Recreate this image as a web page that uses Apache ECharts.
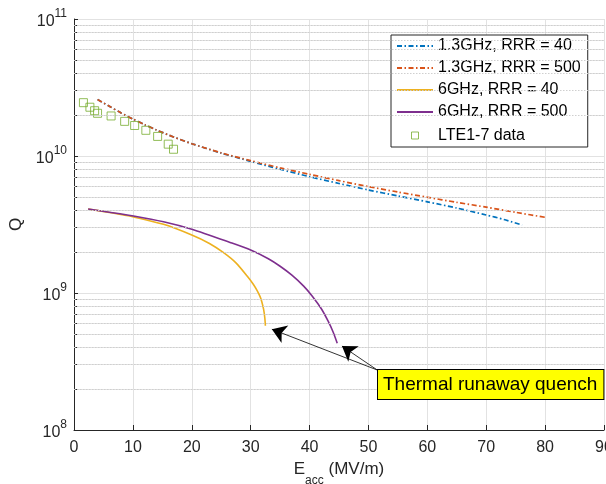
<!DOCTYPE html>
<html><head><meta charset="utf-8">
<script src="https://cdn.jsdelivr.net/npm/echarts@6/dist/echarts.min.js"></script>
<style>html,body{margin:0;padding:0;background:#fff}#c{width:606px;height:484px}</style>
</head><body><div id="c"></div>
<script>
// ---- data ----
const seriesNames = ['1.3GHz, RRR = 40', '1.3GHz, RRR = 500', '6GHz, RRR = 40', '6GHz, RRR = 500', 'LTE1-7 data'];
const seriesColors = ['#0072BD', '#D95319', '#EDB120', '#7E2F8E', '#77AC30'];

const e13_40 = [4, 6, 8, 10, 12, 14, 17, 20, 25, 30, 35, 40, 45, 50, 55, 60, 65, 70, 73, 76.1];
const q13_40 = [2.588e10, 2.307e10, 2.061e10, 1.862e10, 1.694e10, 1.549e10, 1.371e10, 1.230e10, 1.050e10, 9.14e9, 8.00e9, 7.06e9, 6.30e9, 5.65e9, 5.11e9, 4.63e9, 4.17e9, 3.71e9, 3.44e9, 3.13e9];

const e13_500 = [4, 6, 8, 10, 12, 14, 17, 20, 25, 30, 35, 40, 45, 50, 55, 60, 65, 70, 75, 80.3];
const q13_500 = [2.588e10, 2.307e10, 2.061e10, 1.862e10, 1.694e10, 1.549e10, 1.371e10, 1.230e10, 1.054e10, 9.25e9, 8.20e9, 7.35e9, 6.61e9, 5.98e9, 5.46e9, 5.00e9, 4.59e9, 4.23e9, 3.88e9, 3.55e9];

const e6_40 = [2.4, 6, 10.1, 15.2, 20.0, 23.0, 25.4, 27.5, 29.4, 30.5, 31.1, 31.6, 31.9, 32.2, 32.4, 32.5];
const q6_40 = [4.10e9, 3.87e9, 3.59e9, 3.17e9, 2.65e9, 2.30e9, 1.97e9, 1.66e9, 1.33e9, 1.15e9, 1.04e9, 9.4e8, 8.6e8, 7.6e8, 6.6e8, 5.77e8];

const e6_500 = [2.4, 6, 10.1, 15.2, 20.0, 26.5, 30.0, 33.0, 35.0, 37.0, 39.0, 40.5, 42.0, 43.2, 44.0, 44.7];
const q6_500 = [4.10e9, 3.89e9, 3.65e9, 3.31e9, 2.92e9, 2.34e9, 2.06e9, 1.778e9, 1.567e9, 1.349e9, 1.122e9, 9.44e8, 7.67e8, 6.17e8, 5.19e8, 4.30e8];

const eLTE = [1.6, 2.7, 3.5, 4.0, 6.3, 8.6, 10.3, 12.2, 14.2, 16.0, 16.9];
const qLTE = [2.45e10, 2.27e10, 2.14e10, 2.05e10, 1.96e10, 1.79e10, 1.67e10, 1.54e10, 1.39e10, 1.22e10, 1.12e10];

const xTicks = [0, 10, 20, 30, 40, 50, 60, 70, 80, 90];
const yMajor = [1e8, 1e9, 1e10, 1e11];
const yMinorMult = [2, 3, 4, 5, 6, 7, 8, 9];

const annotationText = 'Thermal runaway quench';
const arrowStart = [51.5, 2.74e8];
const arrowTips = [[33.6, 5.44e8], [45.5, 4.1e8]];

// ---- build ----
const FONT = '"Liberation Sans", Arial, Helvetica, sans-serif';
const AX = '#262626';
const zip = (a, b) => a.map((v, i) => [v, b[i]]);

const yMinor = [];
for (let d = 0; d < yMajor.length - 1; d++) yMinorMult.forEach(m => yMinor.push(yMajor[d] * m));
const yAllTicks = yMajor.concat(yMinor).sort((a, b) => a - b);

const dashDot = [5, 2.5, 1.5, 2.5];
const hideSym = { opacity: 0 };

const option = {
  animation: false,
  backgroundColor: '#fff',
  textStyle: { fontFamily: FONT },
  grid: { left: 74, right: 2, top: 19, bottom: 54, containLabel: false, outerBoundsMode: 'none' },
  xAxis: {
    type: 'value', min: xTicks[0], max: xTicks[xTicks.length - 1], interval: 10,
    axisLine: { lineStyle: { color: AX, width: 1 } },
    axisTick: { inside: true, length: 5, lineStyle: { color: AX } },
    axisLabel: { fontSize: 16, color: AX, margin: 10, fontFamily: FONT },
    splitLine: { show: true, lineStyle: { color: '#e2e2e2', width: 1 } },
    name: '{e|E}{s|acc}{e| (MV/m)}',
    nameLocation: 'middle', nameGap: 30,
    nameTextStyle: {
      rich: {
        e: { fontSize: 17, color: AX, fontFamily: FONT, lineHeight: 26, verticalAlign: 'top' },
        s: { fontSize: 12, color: AX, fontFamily: FONT, lineHeight: 12, verticalAlign: 'bottom' }
      }
    }
  },
  yAxis: {
    type: 'log', logBase: 10, min: yMajor[0], max: yMajor[yMajor.length - 1],
    axisLine: { show: true, lineStyle: { color: AX, width: 1 } },
    axisTick: { show: true, inside: true, length: 4, lineStyle: { color: AX }, customValues: yAllTicks },
    axisLabel: {
      color: AX, margin: 7, customValues: yMajor,
      formatter: v => '{b|10}{s|' + Math.round(Math.log10(v)) + '}',
      rich: {
        b: { fontSize: 16, color: AX, fontFamily: FONT, padding: [6, 0, 0, 0] },
        s: { fontSize: 12, color: AX, fontFamily: FONT, lineHeight: 12, verticalAlign: 'top' }
      }
    },
    splitLine: { show: true, lineStyle: { color: '#e2e2e2', width: 1 } },
    name: 'Q', nameLocation: 'middle', nameGap: 44, nameRotate: 90,
    nameTextStyle: { fontSize: 17, color: AX, fontFamily: FONT }
  },
  legend: {
    orient: 'vertical', left: 391, top: 35,
    itemWidth: 36, itemHeight: 14, itemGap: 6,
    padding: [3, 7, 2, 5],
    backgroundColor: '#fff', borderColor: AX, borderWidth: 1, borderRadius: 0,
    textStyle: { fontSize: 16, color: '#000', fontFamily: FONT },
    data: [
      { name: seriesNames[0], itemStyle: hideSym }, { name: seriesNames[1], itemStyle: hideSym },
      { name: seriesNames[2], itemStyle: hideSym }, { name: seriesNames[3], itemStyle: hideSym },
      { name: seriesNames[4], icon: 'path://M0,0M14,14M3.5,3.5L10.5,3.5L10.5,10.5L3.5,10.5Z',
        itemStyle: { color: 'none', borderColor: seriesColors[4], borderWidth: 1 } }
    ]
  },
  graphic: [{
    type: 'text', left: 377, top: 369, z: 100,
    style: {
      text: annotationText, font: '19px ' + FONT, fill: '#000',
      backgroundColor: '#ffff00', borderColor: '#000', borderWidth: 1, padding: [5, 6, 5, 5]
    }
  }],
  series: [
    { name: 'minorGrid', type: 'line', data: [], silent: true, z: 1,
      markLine: { silent: true, symbol: ['none', 'none'], label: { show: false }, animation: false,
        lineStyle: { color: '#cfcfcf', type: [1.5, 1.5], width: 1 },
        data: yMinor.map(v => ({ yAxis: v })) } },
    { name: seriesNames[0], type: 'line', data: zip(e13_40, q13_40), symbol: 'none', smooth: 0.25, z: 3,
      color: seriesColors[0], lineStyle: { width: 1.7, type: dashDot, color: seriesColors[0] } },
    { name: seriesNames[1], type: 'line', data: zip(e13_500, q13_500), symbol: 'none', smooth: 0.25, z: 3,
      color: seriesColors[1], lineStyle: { width: 1.7, type: dashDot, color: seriesColors[1] } },
    { name: seriesNames[2], type: 'line', data: zip(e6_40, q6_40), symbol: 'none', smooth: 0.25, z: 3,
      color: seriesColors[2], lineStyle: { width: 1.6, color: seriesColors[2] } },
    { name: seriesNames[3], type: 'line', data: zip(e6_500, q6_500), symbol: 'none', smooth: 0.25, z: 3,
      color: seriesColors[3], lineStyle: { width: 1.6, color: seriesColors[3] } },
    { name: seriesNames[4], type: 'scatter', data: zip(eLTE, qLTE), symbol: 'rect', symbolSize: 8, z: 4,
      itemStyle: { color: 'rgba(0,0,0,0)', borderColor: seriesColors[4], borderWidth: 1 } },
    { name: 'arrows', type: 'line', data: [], silent: true, z: 5,
      markLine: { silent: true, symbol: ['none', 'arrow'], symbolSize: 14, label: { show: false }, animation: false,
        lineStyle: { color: '#000', type: 'solid', width: 0.8 },
        itemStyle: { color: '#000' },
        data: arrowTips.map(t => [{ coord: arrowStart, symbol: 'none' }, { coord: t, symbol: 'arrow', symbolSize: 14 }]) } }
  ]
};

const chart = echarts.init(document.getElementById('c'), null, { renderer: 'canvas' });
chart.setOption(option);
</script>
</body></html>
